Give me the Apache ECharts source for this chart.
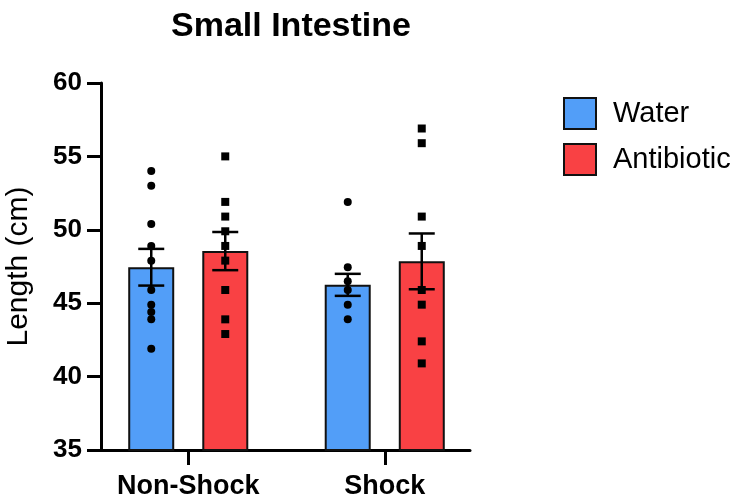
<!DOCTYPE html>
<html>
<head>
<meta charset="utf-8">
<script src="https://cdn.jsdelivr.net/npm/echarts@6/dist/echarts.min.js"></script>
<style>
  html, body { margin: 0; padding: 0; background: #fff; }
  #main { width: 741px; height: 501px; }
</style>
</head>
<body>
<div id="main"></div>
<script>
// data
const categories = ["Non-Shock", "Shock"];
const waterMean = [47.45, 46.25];
const waterSem = [1.25, 0.75];
const antibioticMean = [48.55, 47.85];
const antibioticSem = [1.3, 1.9];
const waterNonShock = [54, 53, 50.4, 48.9, 47.9, 45.9, 44.9, 44.4, 43.9, 41.9];
const waterShock = [51.9, 47.45, 46.5, 45.9, 44.9, 43.9];
const antibioticNonShock = [55, 51.9, 50.9, 49.9, 48.9, 47.9, 45.9, 43.9, 42.9];
const antibioticShock = [56.9, 55.9, 50.9, 48.9, 45.9, 44.9, 42.4, 40.9];
const yTicks = [35, 40, 45, 50, 55, 60];

const FONT = "'Liberation Sans', Arial, sans-serif";
const BLUE = "#529ef8";
const RED = "#f94144";
const BAR_W = 46;
const OFFSET = 37; // half distance between the two bars of a group

const chart = echarts.init(document.getElementById("main"), null, { renderer: "canvas" });

// turn the point lists into [category, value] pairs
const toPoints = (lists) => {
  const out = [];
  lists.forEach((list, i) => list.forEach((v) => out.push([categories[i], v])));
  return out;
};

const errorSeries = (name, means, sems, dx) => ({
  name: name,
  type: "custom",
  xAxisIndex: 0,
  yAxisIndex: 0,
  z: 5,
  data: means.map((m, i) => [i, m - sems[i], m + sems[i]]),
  renderItem: (params, api) => {
    const lo = api.coord([api.value(0), api.value(1)]);
    const hi = api.coord([api.value(0), api.value(2)]);
    const x = lo[0] + dx;
    const cap = 13;
    const style = { stroke: "#000", lineWidth: 2.5 };
    return {
      type: "group",
      children: [
        { type: "line", shape: { x1: x, y1: lo[1], x2: x, y2: hi[1] }, style: style },
        { type: "line", shape: { x1: x - cap, y1: lo[1], x2: x + cap, y2: lo[1] }, style: style },
        { type: "line", shape: { x1: x - cap, y1: hi[1], x2: x + cap, y2: hi[1] }, style: style }
      ]
    };
  }
});

const option = {
  animation: false,
  backgroundColor: "#fff",
  title: {
    text: "Small Intestine",
    left: 286,
    textAlign: "center",
    top: 5,
    textStyle: { fontFamily: FONT, fontSize: 34, fontWeight: "bold", color: "#000" }
  },
  legend: {
    data: ["Water", "Antibiotic"],
    orient: "vertical",
    left: 558,
    top: 92,
    itemWidth: 32,
    itemHeight: 31,
    itemGap: 13,
    icon: "rect",
    selectedMode: false,
    textStyle: { fontFamily: FONT, fontSize: 29, color: "#000", padding: [0, 0, 0, 12] }
  },
  grid: [
    // grid for the marks, so the categories land where the picture has them
    { left: 90, right: 258, top: 83, bottom: 51 },
    // grid for the visible axes
    { left: 101, right: 271, top: 83, bottom: 51 }
  ],
  xAxis: [
    {
      gridIndex: 0,
      type: "category",
      data: categories,
      axisLine: { show: false },
      axisTick: { show: true, alignWithLabel: true, length: 15, lineStyle: { color: "#000", width: 3 } },
      axisLabel: { margin: 23, fontFamily: FONT, fontSize: 27, fontWeight: "bold", color: "#000" }
    },
    {
      gridIndex: 1,
      type: "value",
      min: 0,
      max: 1,
      axisLine: { show: true, lineStyle: { color: "#000", width: 3 } },
      axisTick: { show: false },
      axisLabel: { show: false },
      splitLine: { show: false }
    }
  ],
  yAxis: [
    { gridIndex: 0, type: "value", min: 35, max: 60, show: false, splitLine: { show: false } },
    {
      gridIndex: 1,
      type: "value",
      min: yTicks[0],
      max: yTicks[yTicks.length - 1],
      interval: 5,
      name: "Length (cm)",
      nameLocation: "middle",
      nameGap: 67,
      nameTextStyle: { fontFamily: FONT, fontSize: 30, color: "#000" },
      axisLine: { show: true, lineStyle: { color: "#000", width: 3 } },
      axisTick: { show: true, length: 14, lineStyle: { color: "#000", width: 3 } },
      axisLabel: { margin: 19, fontFamily: FONT, fontSize: 26, fontWeight: "bold", color: "#000" },
      splitLine: { show: false }
    }
  ],
  series: [
    {
      name: "Water",
      type: "bar",
      xAxisIndex: 0,
      yAxisIndex: 0,
      barWidth: BAR_W,
      barGap: "61%",
      data: waterMean,
      itemStyle: { color: BLUE, borderColor: "#111", borderWidth: 2 }
    },
    {
      name: "Antibiotic",
      type: "bar",
      xAxisIndex: 0,
      yAxisIndex: 0,
      barWidth: BAR_W,
      barGap: "61%",
      data: antibioticMean,
      itemStyle: { color: RED, borderColor: "#111", borderWidth: 2 }
    },
    errorSeries("Water SEM", waterMean, waterSem, -OFFSET),
    errorSeries("Antibiotic SEM", antibioticMean, antibioticSem, OFFSET),
    {
      name: "Water points",
      type: "scatter",
      xAxisIndex: 0,
      yAxisIndex: 0,
      z: 6,
      symbol: "circle",
      symbolSize: 8,
      symbolOffset: [-OFFSET, 0],
      itemStyle: { color: "#000", opacity: 1 },
      data: toPoints([waterNonShock, waterShock])
    },
    {
      name: "Antibiotic points",
      type: "scatter",
      xAxisIndex: 0,
      yAxisIndex: 0,
      z: 6,
      symbol: "rect",
      symbolSize: 8,
      symbolOffset: [OFFSET, 0],
      itemStyle: { color: "#000", opacity: 1 },
      data: toPoints([antibioticNonShock, antibioticShock])
    }
  ]
};

option && chart.setOption(option);
</script>
</body>
</html>
